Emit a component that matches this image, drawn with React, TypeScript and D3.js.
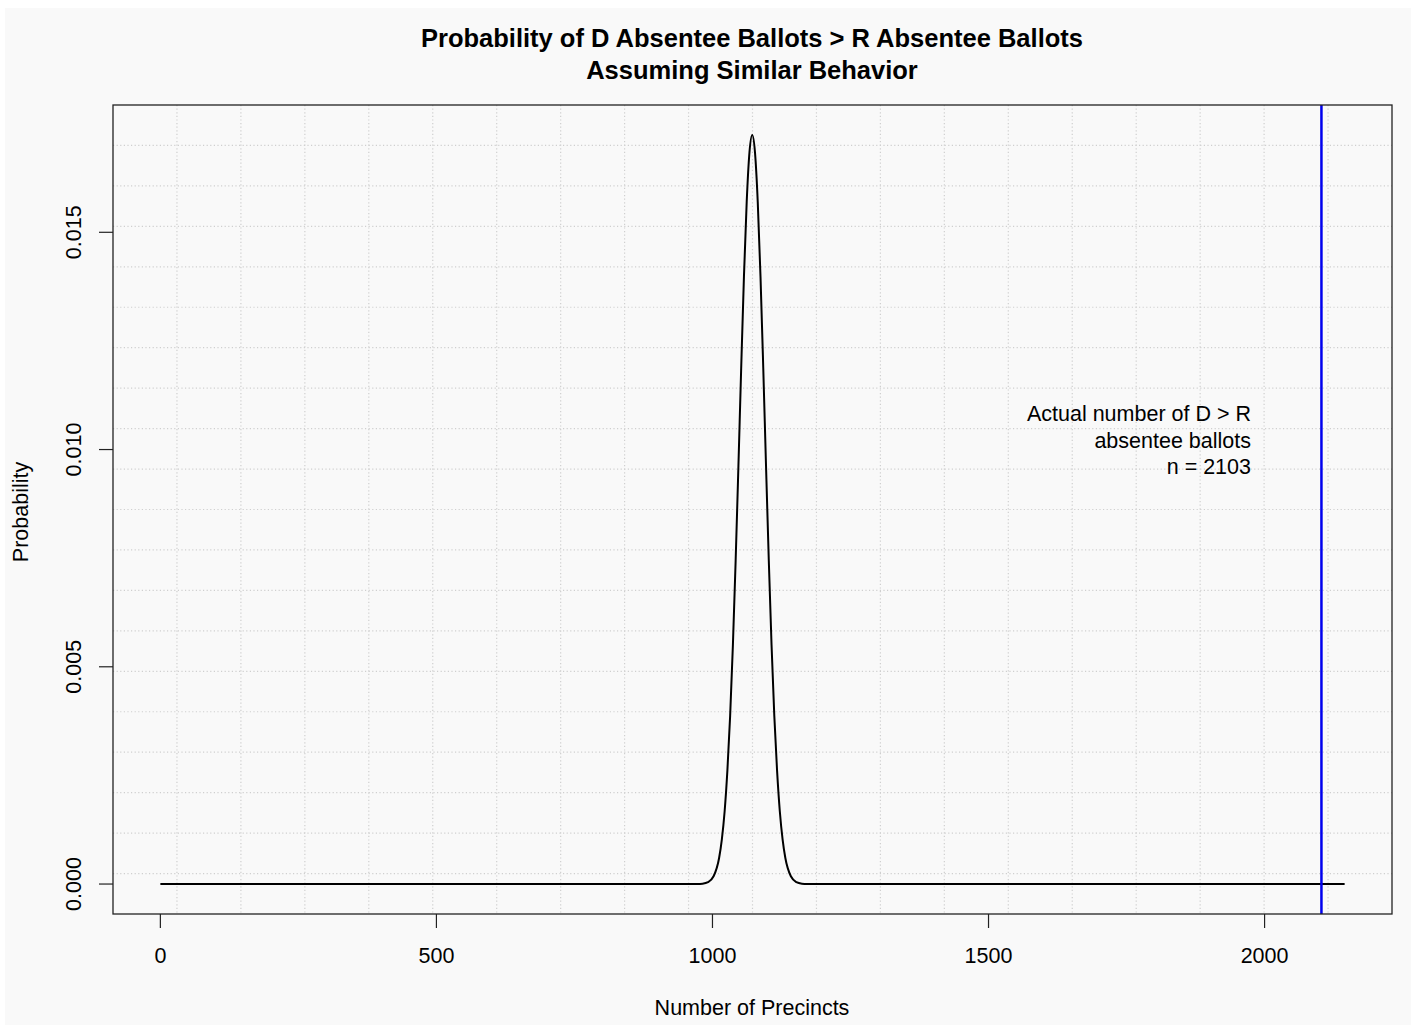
import React from "react";
import * as d3 from "d3";

// Probability curve
const curveX = [0, 962, 972, 982, 992, 1002, 1012, 1017, 1022, 1027, 1032, 1037, 1042, 1047, 1052, 1057, 1062, 1067, 1072, 1077, 1082, 1087, 1092, 1097, 1102, 1107, 1112, 1117, 1122, 1127, 1132, 1142, 1152, 1162, 1172, 1182, 2145];
const curveY = [0, 0.0000003, 0.0000015, 0.000009, 0.000044, 0.000178, 0.0006, 0.00103, 0.00167, 0.00261, 0.00387, 0.0055, 0.00745, 0.00962, 0.01187, 0.01398, 0.0157, 0.01684, 0.01724, 0.01684, 0.0157, 0.01398, 0.01187, 0.00962, 0.00745, 0.0055, 0.00387, 0.00261, 0.00167, 0.00103, 0.0006, 0.000178, 0.000044, 0.000009, 0.0000015, 0.0000003, 0];

const xTicks = [0, 500, 1000, 1500, 2000];
const yTicks = [0, 0.005, 0.01, 0.015];
const actualN = 2103;
const titleLines = ["Probability of D Absentee Ballots > R Absentee Ballots", "Assuming Similar Behavior"];
const noteLines = ["Actual number of D > R", "absentee ballots", "n = 2103"];
const xLabel = "Number of Precincts";
const yLabel = "Probability";

const W = 1416;
const H = 1027;
const plot = { left: 113, right: 1392, top: 105, bottom: 914 };
const font = "'Liberation Sans', Arial, Helvetica, sans-serif";
const fs = 21.5;

export default function App() {
  const xMin = d3.min(curveX)!;
  const xMax = d3.max(curveX)!;
  const yMin = d3.min(curveY)!;
  const yMax = d3.max(curveY)!;
  const xPad = (xMax - xMin) * 0.04;
  const yPad = (yMax - yMin) * 0.04;
  const x = d3.scaleLinear().domain([xMin - xPad, xMax + xPad]).range([plot.left, plot.right]);
  const y = d3.scaleLinear().domain([yMin - yPad, yMax + yPad]).range([plot.bottom, plot.top]);

  const pts = curveX.map((v, i) => [v, curveY[i]] as [number, number]);
  const line = d3
    .line<[number, number]>()
    .x((d) => x(d[0]))
    .y((d) => y(d[1]))
    .curve(d3.curveMonotoneX);

  const nGrid = 20;
  const gx = d3.range(1, nGrid).map((k) => plot.left + ((plot.right - plot.left) * k) / nGrid);
  const gy = d3.range(1, nGrid).map((k) => plot.top + ((plot.bottom - plot.top) * k) / nGrid);

  return (
    <svg width={W} height={H} style={{ position: "absolute", left: 0, top: 0 }} fontFamily={font}>
      <rect x={0} y={0} width={W} height={H} fill="#ffffff" />
      <rect x={5} y={8} width={W - 10} height={H - 10} fill="#f9f9f9" />
      <g fill="#000">
        {titleLines.map((t, i) => (
          <text key={t} x={752} y={47 + i * 32} textAnchor="middle" fontSize={25.5} fontWeight="bold">
            {t}
          </text>
        ))}
      </g>
      {/* grid */}
      <g stroke="#cfcfcf" strokeWidth={1.2} strokeDasharray="1.2,2.4">
        {gx.map((v, i) => (
          <line key={"gx" + i} x1={v} x2={v} y1={plot.top} y2={plot.bottom} />
        ))}
        {gy.map((v, i) => (
          <line key={"gy" + i} x1={plot.left} x2={plot.right} y1={v} y2={v} />
        ))}
      </g>
      {/* curve */}
      <path d={line(pts) ?? ""} fill="none" stroke="#000" strokeWidth={2} />
      {/* actual line */}
      <line x1={x(actualN)} x2={x(actualN)} y1={plot.top} y2={plot.bottom} stroke="#0000ee" strokeWidth={2.5} />
      {/* box */}
      <rect x={plot.left} y={plot.top} width={plot.right - plot.left} height={plot.bottom - plot.top} fill="none" stroke="#222" strokeWidth={1.3} />
      {/* x axis */}
      <g>
        {xTicks.map((t) => (
          <g key={"xt" + t}>
            <line x1={x(t)} x2={x(t)} y1={plot.bottom} y2={plot.bottom + 14} stroke="#222" strokeWidth={1.2} />
            <text x={x(t)} y={963} textAnchor="middle" fontSize={fs} fill="#000">
              {t}
            </text>
          </g>
        ))}
      </g>
      {/* y axis */}
      <g>
        {yTicks.map((t) => (
          <g key={"yt" + t}>
            <line x1={plot.left - 14} x2={plot.left} y1={y(t)} y2={y(t)} stroke="#222" strokeWidth={1.2} />
            <text
              transform={`translate(81,${y(t)}) rotate(-90)`}
              textAnchor="middle"
              fontSize={fs}
              fill="#000"
            >
              {d3.format(".3f")(t)}
            </text>
          </g>
        ))}
      </g>
      <text x={752} y={1015} textAnchor="middle" fontSize={fs} fill="#000">
        {xLabel}
      </text>
      <text transform="translate(28,512) rotate(-90)" textAnchor="middle" fontSize={fs} fill="#000">
        {yLabel}
      </text>
      {noteLines.map((t, i) => (
        <text key={t} x={1251} y={421 + i * 26.5} textAnchor="end" fontSize={fs} fill="#000">
          {t}
        </text>
      ))}
    </svg>
  );
}
